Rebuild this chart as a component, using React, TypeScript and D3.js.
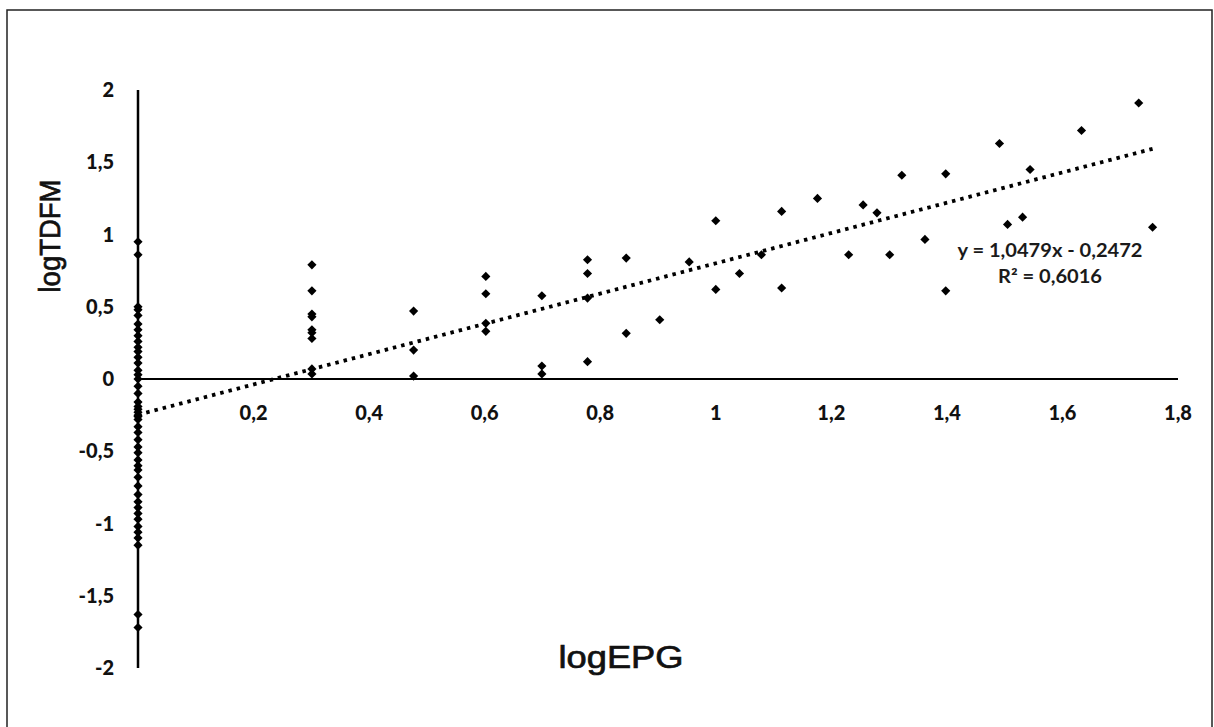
import React from "react";
import * as d3 from "d3";

// logTDFM values for samples with logEPG = 0 (they sit on the y axis)
const yAtZero = [
  0.95, 0.86, 0.5, 0.48, 0.44, 0.38, 0.34, 0.3, 0.26, 0.22, 0.19, 0.15, 0.11,
  0.06, 0.03, 0, -0.05, -0.1, -0.16, -0.19, -0.21, -0.23, -0.25, -0.26, -0.28,
  -0.33, -0.37, -0.42, -0.47, -0.51, -0.56, -0.6, -0.63, -0.68, -0.74, -0.8,
  -0.85, -0.89, -0.93, -0.97, -1.02, -1.06, -1.1, -1.15, -1.63, -1.72,
];

// remaining samples: logEPG / logTDFM
const epgX = [
  0.301, 0.301, 0.301, 0.301, 0.301, 0.301, 0.301, 0.301, 0.301,
  0.477, 0.477, 0.477,
  0.602, 0.602, 0.602, 0.602,
  0.699, 0.699, 0.699,
  0.778, 0.778, 0.778, 0.778,
  0.845, 0.845, 0.903, 0.954,
  1.0, 1.0, 1.041, 1.079, 1.114, 1.114, 1.176, 1.23, 1.255, 1.279, 1.301,
  1.322, 1.362, 1.398, 1.398, 1.491, 1.505, 1.531, 1.544, 1.633, 1.732, 1.756,
];
const tdfmY = [
  0.79, 0.61, 0.45, 0.43, 0.34, 0.32, 0.28, 0.07, 0.035,
  0.47, 0.2, 0.02,
  0.71, 0.59, 0.385, 0.33,
  0.576, 0.09, 0.035,
  0.825, 0.73, 0.56, 0.12,
  0.837, 0.316, 0.41, 0.81,
  1.095, 0.62, 0.73, 0.86, 1.16, 0.63, 1.25, 0.86, 1.205, 1.15, 0.86,
  1.41, 0.966, 1.42, 0.61, 1.63, 1.07, 1.12, 1.45, 1.72, 1.91, 1.05,
];

const xTicks = [0.2, 0.4, 0.6, 0.8, 1, 1.2, 1.4, 1.6, 1.8];
const yTicks = [2, 1.5, 1, 0.5, 0, -0.5, -1, -1.5, -2];

const slope = 1.0479;
const intercept = -0.2472;
const equationText = "y = 1,0479x - 0,2472";
const r2Text = "R² = 0,6016";

const W = 1214;
const H = 727;

const fmt = (v: number) => String(v).replace(".", ",");

export default function App() {
  const x = d3.scaleLinear().domain([0, 1.8]).range([138, 1178]);
  const y = d3.scaleLinear().domain([-2, 2]).range([668, 90]);

  const points = [
    ...yAtZero.map((v) => [0, v]),
    ...epgX.map((v, i) => [v, tdfmY[i]]),
  ];
  const marker = d3.symbol().type(d3.symbolSquare).size(42)();
  const xMax = d3.max(points, (d) => d[0]) as number;
  const trend = d3
    .line<number>()
    .x((d) => x(d))
    .y((d) => y(slope * d + intercept))([0, xMax]);

  const tickFont = "Lato, 'Open Sans', sans-serif";
  const titleFont = "Arial, 'Liberation Sans', sans-serif";

  return (
    <svg
      width={W}
      height={H}
      style={{ position: "absolute", left: 0, top: 0, background: "#fff" }}
    >
      <rect x={7} y={10} width={1205} height={740} fill="#fff" stroke="#222" strokeWidth={1.5} />

      {/* axes */}
      <line x1={x(0)} x2={x(0)} y1={y(2)} y2={y(-2)} stroke="#000" strokeWidth={2.5} />
      <line x1={x(0)} x2={x(1.8)} y1={y(0)} y2={y(0)} stroke="#000" strokeWidth={2.2} />

      {xTicks.map((t) => (
        <text
          key={"x" + t}
          x={x(t)}
          y={420}
          textAnchor="middle"
          fontFamily={tickFont}
          fontWeight={900}
          fontSize={20}
          fill="#111"
        >
          {fmt(t)}
        </text>
      ))}
      {yTicks.map((t) => (
        <text
          key={"y" + t}
          x={114}
          y={y(t)}
          dy="0.35em"
          textAnchor="end"
          fontFamily={tickFont}
          fontWeight={900}
          fontSize={20}
          fill="#111"
        >
          {fmt(t)}
        </text>
      ))}

      {/* trend line */}
      <path d={trend ?? ""} fill="none" stroke="#000" strokeWidth={3.8} strokeDasharray="3.5 5" />

      {points.map((d, i) => (
        <path
          key={i}
          d={marker}
          transform={`translate(${x(d[0])},${y(d[1])}) rotate(45)`}
          fill="#000"
        />
      ))}

      <text x={1050} y={257} textAnchor="middle" fontFamily={tickFont} fontWeight={700} fontSize={18} fill="#1a1a1a" textLength={185} lengthAdjust="spacingAndGlyphs">
        {equationText}
      </text>
      <text x={1050} y={283} textAnchor="middle" fontFamily={tickFont} fontWeight={700} fontSize={18} fill="#1a1a1a" textLength={104} lengthAdjust="spacingAndGlyphs">
        {r2Text}
      </text>

      {/* axis titles */}
      <text
        x={621}
        y={668}
        textAnchor="middle"
        fontFamily={titleFont}
        fontSize={31}
        fill="#111"
        stroke="#111"
        strokeWidth={0.7}
        textLength={125}
        lengthAdjust="spacingAndGlyphs"
      >
        logEPG
      </text>
      <text
        transform="translate(60,236) rotate(-90)"
        textAnchor="middle"
        fontFamily={titleFont}
        fontSize={30}
        fill="#111"
        stroke="#111"
        strokeWidth={0.7}
        textLength={113}
        lengthAdjust="spacingAndGlyphs"
      >
        logTDFM
      </text>
    </svg>
  );
}
